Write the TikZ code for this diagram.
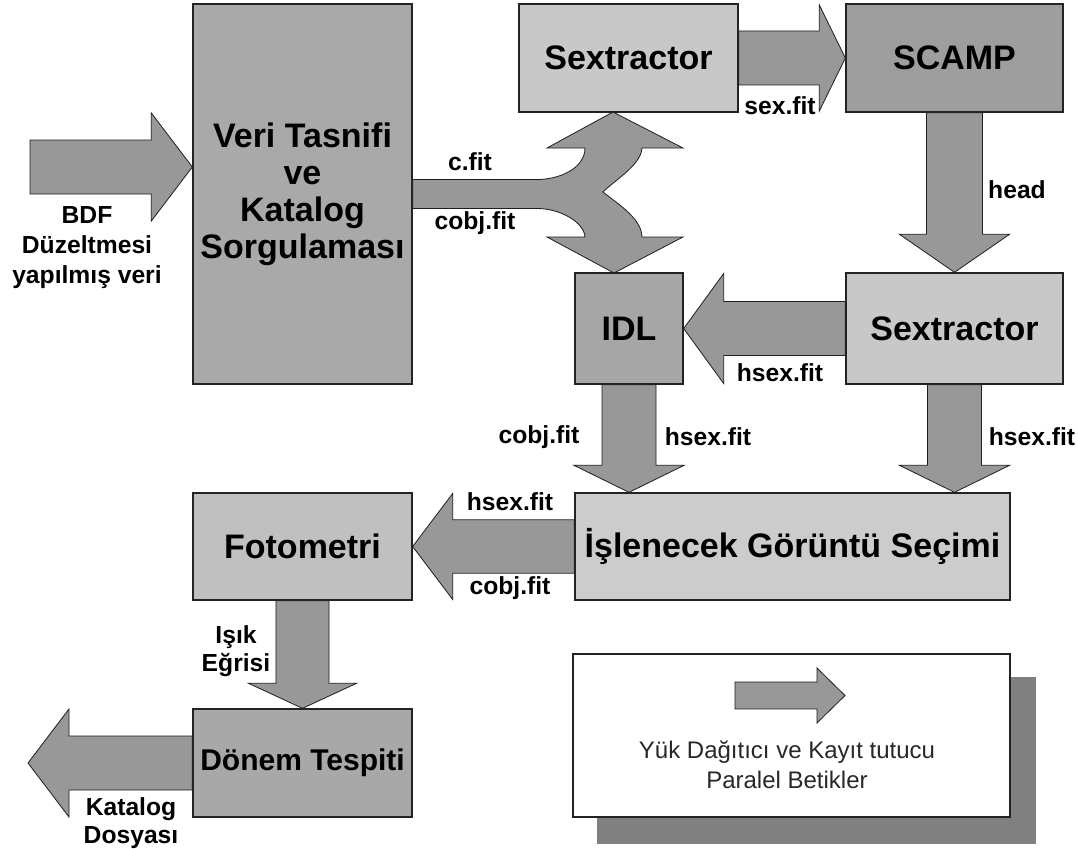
\documentclass[tikz,border=0pt]{standalone}
\usepackage{fontspec}
\setmainfont{Liberation Sans}
\usetikzlibrary{calc,backgrounds}

\definecolor{grayveri}{RGB}{169,169,169}
\definecolor{graylight}{RGB}{200,200,200}
\definecolor{grayscamp}{RGB}{158,158,158}
\definecolor{grayidl}{RGB}{166,166,166}
\definecolor{graysecim}{RGB}{204,204,204}
\definecolor{grayfoto}{RGB}{192,192,192}
\definecolor{graydonem}{RGB}{168,168,168}
\definecolor{arrowgray}{RGB}{152,152,152}
\definecolor{shadowgray}{RGB}{128,128,128}

\tikzset{every picture/.style={line width=0.75pt}}
\tikzset{
  box/.style={draw={rgb, 255:red, 35; green, 35; blue, 35 }, line width=1pt, inner sep=0pt, align=center, font=\fontsize{25.5}{27.75}\selectfont\bfseries},
  blkarrow/.style={draw={rgb, 255:red, 30; green, 30; blue, 30 }, fill=arrowgray, line width=0.6pt, line join=miter},
  lbl/.style={inner sep=0.75pt, align=center, font=\fontsize{18.5}{22.5}\selectfont\bfseries},
}

% tail, tip, shaft half width, head half width, head length
\newcommand{\blockarrow}[5]{%
  \coordinate (ba-h) at ($(#2)!#5!(#1)$);
  \draw [blkarrow] ($(#1)!#3!90:(#2)$) -- ($(ba-h)!#3!90:(#2)$) -- ($(ba-h)!#4!90:(#2)$) -- (#2) -- ($(ba-h)!#4!-90:(#2)$) -- ($(ba-h)!#3!-90:(#2)$) -- ($(#1)!#3!-90:(#2)$) -- cycle ;
}

\begin{document}
\begin{tikzpicture}[x=0.75pt,y=0.75pt,yscale=-1,xscale=1]
\useasboundingbox (0,0) rectangle (1078,849);

%Shape: Rectangle [veri]
\node [box, fill=grayveri, minimum width=164.25pt, minimum height=285pt] (veri) at (302.5,194) {Veri Tasnifi\\ve\\Katalog\\Sorgulaması};
%Shape: Rectangle [sextractor top]
\node [box, fill=graylight, minimum width=164.25pt, minimum height=81pt] (sexa) at (628.5,58) {Sextractor};
%Shape: Rectangle [scamp]
\node [box, fill=grayscamp, minimum width=162.75pt, minimum height=81pt] (scamp) at (954.5,58) {SCAMP};
%Shape: Rectangle [idl]
\node [box, fill=grayidl, minimum width=81pt, minimum height=83.25pt] (idl) at (629,328.5) {IDL};
%Shape: Rectangle [sextractor bottom]
\node [box, fill=graylight, minimum width=162.75pt, minimum height=83.25pt] (sexb) at (954.5,328.5) {Sextractor};
%Shape: Rectangle [secim]
\node [box, fill=graysecim, minimum width=326.25pt, minimum height=80.25pt] (secim) at (792.5,546.5) {İşlenecek Görüntü Seçimi};
%Shape: Rectangle [fotometri]
\node [box, fill=grayfoto, minimum width=164.25pt, minimum height=80.25pt] (foto) at (302.5,546.5) {Fotometri};
%Shape: Rectangle [donem]
\node [box, fill=graydonem, minimum width=164.25pt, minimum height=81pt, font=\fontsize{22.5}{27}\selectfont\bfseries] (donem) at (302.5,763) {Dönem Tespiti};
%Shape: Rectangle [legend]
\node [box, fill=white, minimum width=327.75pt, minimum height=122.25pt] (legend) at (791.5,735.5) {};

\coordinate (bdfin) at (30,167) ;
\coordinate (bdftip) at ($(veri.west)+(0,-27)$) ;
\coordinate (katout) at (28,763) ;
\coordinate (idltip) at (idl.south |- secim.north) ;
\coordinate (sexbtip) at (sexb.south |- secim.north) ;
\coordinate (lega) at (735,695.5) ;
\coordinate (legb) at (845,695.5) ;

\begin{scope}[on background layer]
\fill [white] (0,0) rectangle (1078,849) ;
%Shape: Shadow [legend]
\fill [shadowgray] ($(legend.south west)+(25,26)$) rectangle ($(legend.north east)+(25,24)$) ;

%Block Arrows
\blockarrow{bdfin}{bdftip}{20.25pt}{40.5pt}{30.75pt}
\blockarrow{sexa.east}{scamp.west}{20.25pt}{39.75pt}{19.5pt}
\blockarrow{scamp.south}{sexb.north}{21pt}{41.25pt}{28.5pt}
\blockarrow{sexb.west}{idl.east}{20.25pt}{41.25pt}{30pt}
\blockarrow{idl.south}{idltip}{20.25pt}{41.25pt}{20.25pt}
\blockarrow{sexb.south}{sexbtip}{20.25pt}{41.25pt}{20.25pt}
\blockarrow{secim.west}{foto.east}{20pt}{39.75pt}{30pt}
\blockarrow{foto.south}{donem.north}{19.9pt}{40.5pt}{18.75pt}
\blockarrow{donem.west}{katout}{20.25pt}{40.5pt}{30.75pt}

%Shape: Fork Arrow [c.fit, cobj.fit]
\draw [blkarrow] (veri.east |- 0,179.5) -- (537,179.5) .. controls (560,179.5) and (585,168) .. (585,148) -- (547,148) -- (613,112) -- (683,148) -- (642,148) .. controls (641,165) and (615,180) .. (603,192) .. controls (615,202) and (642,218) .. (642,237) -- (683,237) -- (614,273) -- (547,237) -- (585,237) .. controls (584,222) and (560,208.5) .. (537,208.5) -- (veri.east |- 0,208.5) -- cycle ;
\end{scope}

%Block Arrow [legend]
\blockarrow{lega}{legb}{10.1pt}{20.6pt}{21pt}

% Text Node
\node [lbl] (lbdf) at (87,247.5) {BDF\\Düzeltmesi\\yapılmış veri};
% Text Node
\node [lbl] (lcfit) at (470,162) {c.fit};
% Text Node
\node [lbl] (lcobja) at (475,223) {cobj.fit};
% Text Node
\node [lbl] (lsexfit) at (780,106) {sex.fit};
% Text Node
\node [lbl] (lhead) at (1017,190) {head};
% Text Node
\node [lbl] (lhsexa) at (780,373) {hsex.fit};
% Text Node
\node [lbl] (lcobjb) at (539,437) {cobj.fit};
% Text Node
\node [lbl] (lhsexb) at (708,437) {hsex.fit};
% Text Node
\node [lbl] (lhsexc) at (1032,437) {hsex.fit};
% Text Node
\node [lbl] (lhsexd) at (510,502) {hsex.fit};
% Text Node
\node [lbl] (lcobjc) at (510,588) {cobj.fit};
% Text Node
\node [lbl, font=\fontsize{18.5}{21}\selectfont\bfseries] (lisik) at (236,651) {Işık\\Eğrisi};
% Text Node
\node [lbl, font=\fontsize{18.5}{20.5}\selectfont\bfseries] (lkatalog) at (131,823) {Katalog\\Dosyası};
% Text Node
\node [inner sep=0.75pt, align=center, font=\fontsize{18}{22.5}\selectfont, text={rgb, 255:red, 40; green, 40; blue, 40 }] (llegend) at (787,765) {Yük Dağıtıcı ve Kayıt tutucu\\Paralel Betikler};

\end{tikzpicture}
\end{document}
